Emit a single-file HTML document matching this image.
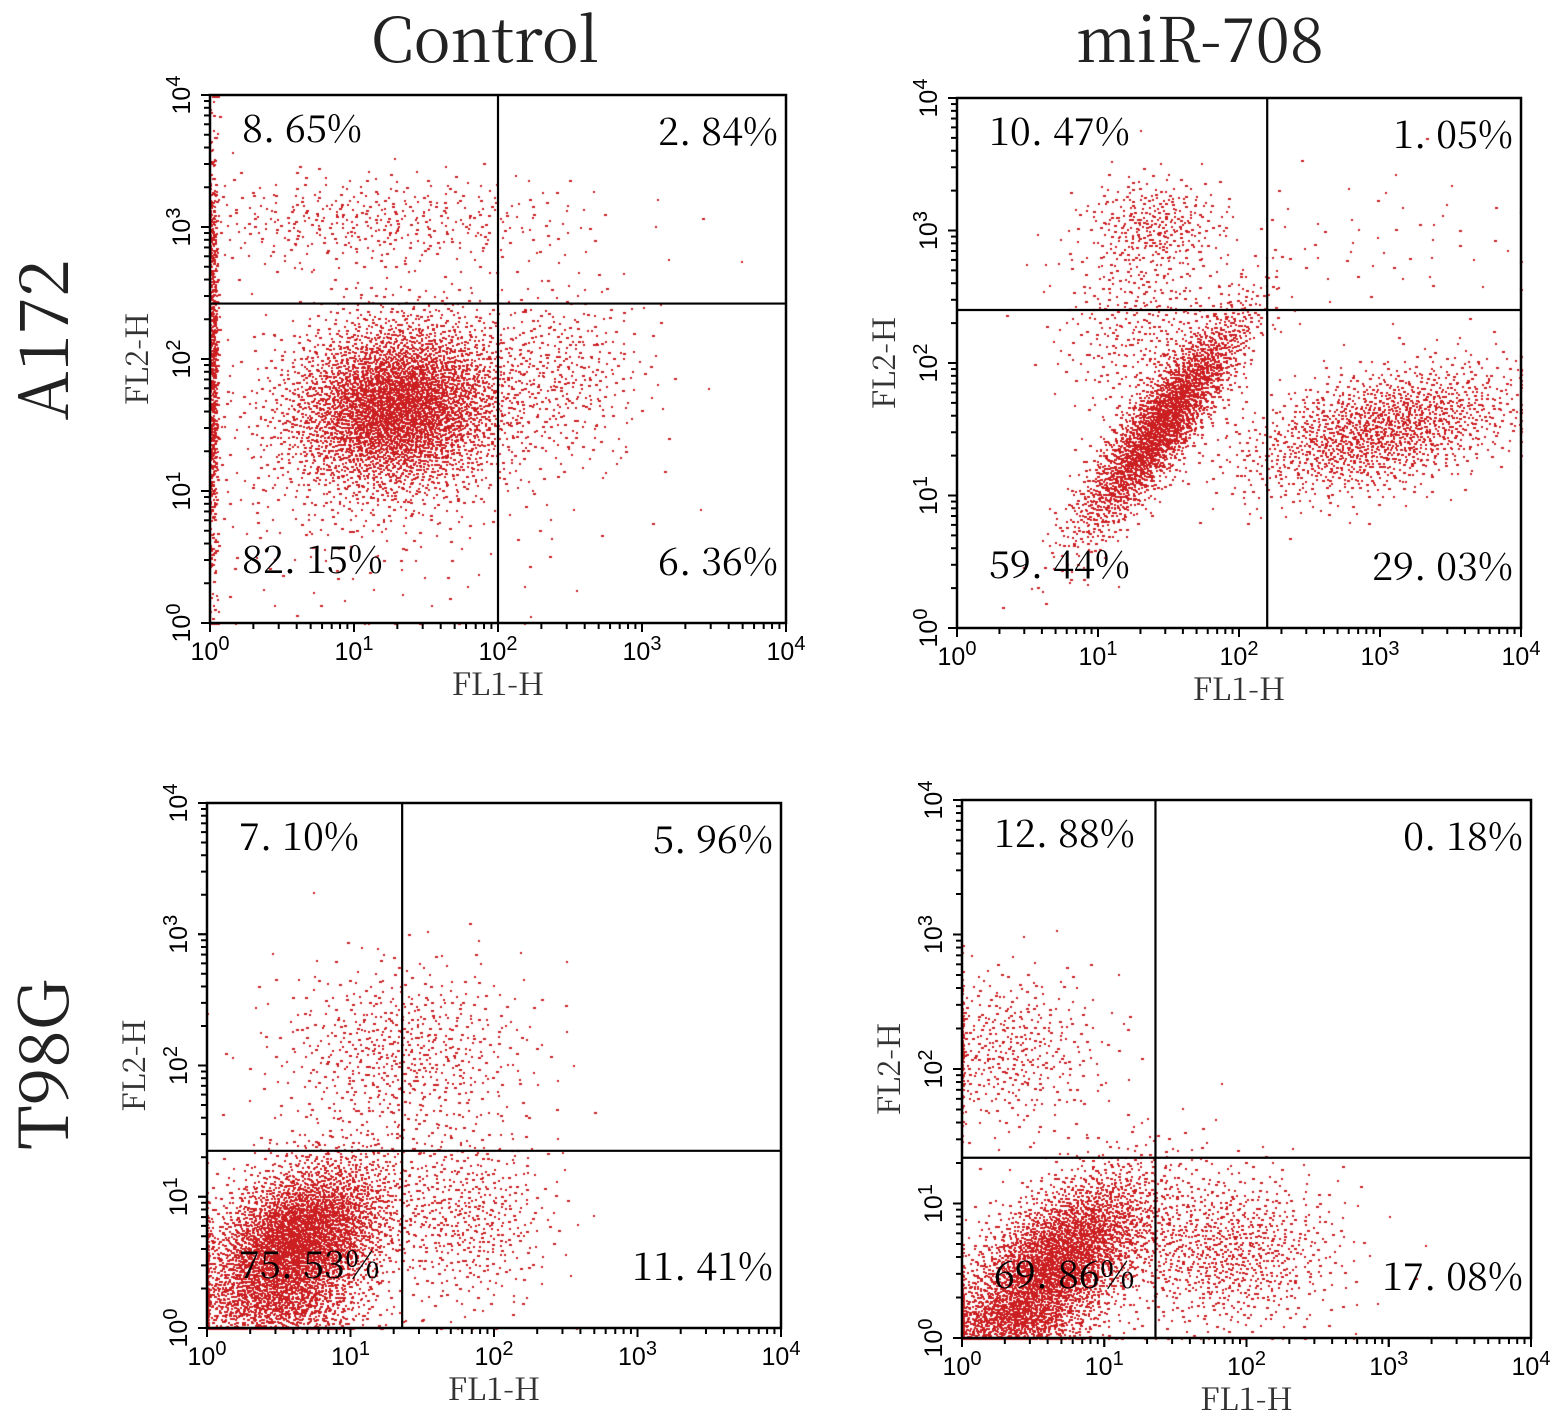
<!DOCTYPE html>
<html><head><meta charset="utf-8"><style>
html,body{margin:0;padding:0;background:#fff;}
#wrap{position:relative;width:1559px;height:1417px;overflow:hidden;}
canvas,svg{position:absolute;left:0;top:0;}
</style></head><body>
<div id="wrap">
<canvas id="dots" width="1559" height="1417"></canvas>
<svg id="svg" width="1559" height="1417" xmlns="http://www.w3.org/2000/svg"></svg>
</div>
<script>
// Panel names
const panelNames = ["a172-control","a172-mir708","t98g-control","t98g-mir708"];
// Gate positions (log10 units)
const gateX = [2.0, 2.2, 1.36, 1.36];
const gateY = [2.42, 2.4, 1.35, 1.34];
// Quadrant percentages: UL, UR, LL, LR
const pctUL = ["8. 65%","10. 47%","7. 10%","12. 88%"];
const pctUR = ["2. 84%","1. 05%","5. 96%","0. 18%"];
const pctLL = ["82. 15%","59. 44%","75. 53%","69. 86%"];
const pctLR = ["6. 36%","29. 03%","11. 41%","17. 08%"];
// Cluster descriptions per panel: [cx, cy, sx, sy, count, corr] in log10 units
const clusters0 = [[1.3,1.65,0.38,0.33,4200,0.1],[0.02,2.0,0.015,0.8,600,0],[1.1,3.05,0.75,0.18,450,0],[2.45,1.9,0.3,0.35,350,0],[1.0,1.2,0.8,0.6,400,0]];
const clusters1 = [[1.45,1.55,0.3,0.42,2600,0.88],[3.0,1.5,0.5,0.25,1500,0.45],[1.4,3.05,0.25,0.18,300,0],[1.3,2.3,0.3,0.4,400,0],[3.0,2.9,0.6,0.3,60,0]];
const clusters2 = [[0.62,0.65,0.33,0.33,4000,0.4],[1.35,2.1,0.45,0.35,650,0],[1.8,0.85,0.3,0.35,500,0],[0.5,0.15,0.35,0.12,500,0]];
const clusters3 = [[0.65,0.55,0.35,0.35,3500,0.6],[0.3,2.15,0.35,0.3,450,0],[1.85,0.65,0.4,0.3,900,0],[0.3,0.12,0.3,0.1,500,0]];
const panelClusters = [clusters0,clusters1,clusters2,clusters3];
// Labels
const colTitles = ["Control","miR-708"];
const rowTitles = ["A172","T98G"];
const tickExp = [0,1,2,3,4];

// Layout (pixel boxes of plot areas)
const boxes = [
  {x0:210,x1:786,y0:95,y1:623},
  {x0:957,x1:1521,y0:98,y1:628},
  {x0:207,x1:781,y0:803,y1:1328},
  {x0:962,x1:1531,y0:800,y1:1338}
];
const NS="http://www.w3.org/2000/svg";
const svg=document.getElementById('svg');
function el(tag,attrs,parent){const e=document.createElementNS(NS,tag);for(const k in attrs)e.setAttribute(k,attrs[k]);(parent||svg).appendChild(e);return e;}
const serif='"Noto Serif CJK SC","Liberation Serif",serif';
const sans='"Liberation Sans","DejaVu Sans",sans-serif';

function halton(i,b){let f=1,r=0;while(i>0){f/=b;r+=f*(i%b);i=Math.floor(i/b);}return r;}
const ctx=document.getElementById('dots').getContext('2d');
ctx.fillStyle='#cc1f22';
let seq=1;

boxes.forEach((b,p)=>{
  const W=b.x1-b.x0,H=b.y1-b.y0;
  const sx=v=>b.x0+W*v/4;
  const sy=v=>b.y1-H*v/4;
  const g=el('g',{});
  
  
  panelClusters[p].forEach(c=>{
    for(let i=0;i<c[4];i++){
      seq++;
      const u1=Math.max(1e-6,halton(seq,2)),u2=halton(seq,3),u3=halton(seq,5);
      const r=Math.sqrt(-2*Math.log(u1));
      const z1=r*Math.cos(2*Math.PI*u2),z2=r*Math.sin(2*Math.PI*u2);
      const zy=c[5]*z1+Math.sqrt(1-c[5]*c[5])*z2;
      let vx=c[0]+c[2]*z1, vy=c[1]+c[3]*zy;
      vx=Math.min(3.99,Math.max(0.0,vx)); vy=Math.min(3.99,Math.max(0.0,vy));
      ctx.fillRect(Math.round(sx(vx)),Math.round(sy(vy)),2+(u3>0.6?1:0),2);
    }
  });
  const fr=el('rect',{x:b.x0,y:b.y0,width:W,height:H,fill:'none',stroke:'#000','stroke-width':2.5},g);
  
  const gv=el('line',{x1:sx(gateX[p]),x2:sx(gateX[p]),y1:b.y0,y2:b.y1,stroke:'#000','stroke-width':2.2},g);
  
  const gh=el('line',{x1:b.x0,x2:b.x1,y1:sy(gateY[p]),y2:sy(gateY[p]),stroke:'#000','stroke-width':2.2},g);
  
  for(let d=0;d<4;d++){for(let m=1;m<=10;m++){
    const v=d+Math.log10(m); const major=(m===1||m===10);
    const len=major?9:6;
    el('line',{x1:sx(v),x2:sx(v),y1:b.y1,y2:b.y1+len,stroke:'#000','stroke-width':2},g);
    el('line',{x1:b.x0,x2:b.x0-len,y1:sy(v),y2:sy(v),stroke:'#000','stroke-width':2},g);
  }}
  tickExp.forEach(e=>{
    const t=el('text',{x:sx(e),y:b.y1+37,'font-family':sans,'font-size':25,'text-anchor':'middle'},g);
    t.innerHTML='10<tspan dy="-10" font-size="20">'+e+'</tspan>';
    
    const ty=el('text',{x:0,y:0,'font-family':sans,'font-size':25,'text-anchor':'middle',transform:'translate('+(b.x0-20)+','+sy(e)+') rotate(-90)'},g);
    ty.innerHTML='10<tspan dy="-10" font-size="20">'+e+'</tspan>';
    
  });
  const xt=el('text',{x:(b.x0+b.x1)/2,y:b.y1+72,'font-family':serif,'font-size':31,'text-anchor':'middle',fill:'#333'},g);
  xt.textContent='FL1-H';
  const yt=el('text',{x:0,y:0,'font-family':serif,'font-size':31,'text-anchor':'middle',fill:'#333',transform:'translate('+(b.x0-62)+','+(b.y0+b.y1)/2+') rotate(-90)'},g);
  yt.textContent='FL2-H';
  const q=[[pctUL[p],b.x0+32,b.y0+47,'start','quadrant-ul-percent'],[pctUR[p],b.x1-8,b.y0+50,'end','quadrant-ur-percent'],
           [pctLL[p],b.x0+32,b.y1-50,'start','quadrant-ll-percent'],[pctLR[p],b.x1-8,b.y1-48,'end','quadrant-lr-percent']];
  q.forEach(a=>{const t=el('text',{x:a[1],y:a[2],'font-family':serif,'font-size':38,'text-anchor':a[3]},g);
    t.textContent=a[0];});
});
colTitles.forEach((s,i)=>{
  const t=el('text',{x:[485,1200][i],y:62,'font-family':serif,'font-size':62,'text-anchor':'middle',fill:'#222'});
  t.textContent=s;
});
rowTitles.forEach((s,i)=>{
  const t=el('text',{x:0,y:0,'font-family':serif,'font-size':68,'text-anchor':'middle',fill:'#222',transform:'translate(68,'+[340,1065][i]+') rotate(-90)'});
  t.textContent=s;
});
</script>
</body></html>
